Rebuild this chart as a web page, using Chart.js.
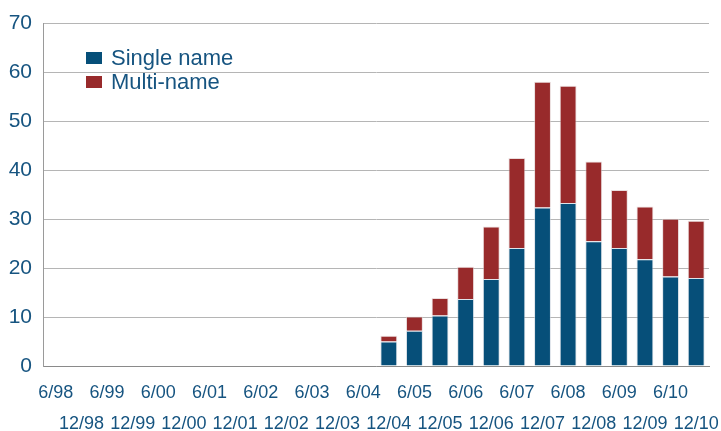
<!DOCTYPE html>
<html>
<head>
<meta charset="utf-8">
<script src="https://cdn.jsdelivr.net/npm/chart.js@4/dist/chart.umd.min.js"></script>
<style>
  html, body { margin: 0; padding: 0; background: #fff; }
  #wrap { width: 721px; height: 431px; }
</style>
</head>
<body>
<div id="wrap"><canvas id="myChart" width="721" height="431"></canvas></div>
<script>
const CATEGORIES = ['6/98', '12/98', '6/99', '12/99', '6/00', '12/00', '6/01', '12/01', '6/02', '12/02',
    '6/03', '12/03', '6/04', '12/04', '6/05', '12/05', '6/06', '12/06', '6/07', '12/07',
    '6/08', '12/08', '6/09', '12/09', '6/10', '12/10'];
const SINGLE_NAME = [0, 0, 0, 0, 0, 0, 0, 0, 0, 0, 0, 0, 0,
    5.0, 7.2, 10.3, 13.7, 17.8, 24.1, 32.4, 33.3, 25.5, 24.1, 21.8, 18.3, 18.0];
const MULTI_NAME = [0, 0, 0, 0, 0, 0, 0, 0, 0, 0, 0, 0, 0,
    1.2, 2.9, 3.6, 6.6, 10.7, 18.4, 25.7, 24.0, 16.3, 11.9, 10.8, 11.8, 11.7];
const Y_TICKS = [0, 10, 20, 30, 40, 50, 60, 70];
const SERIES_LABELS = ['Single name', 'Multi-name'];

const COLOR_BLUE = '#064f79';
const COLOR_RED = '#982a2b';
const COLOR_TEXT = '#165480';
const FONT = '"Liberation Sans", Arial, sans-serif';

// legend drawn inside the plot, top left
const insideLegend = {
    id: 'insideLegend',
    afterDraw(chart) {
        const ctx = chart.ctx;
        const colors = [COLOR_BLUE, COLOR_RED];
        ctx.save();
        ctx.font = '22px ' + FONT;
        ctx.textBaseline = 'middle';
        SERIES_LABELS.forEach((label, i) => {
            const y = 58 + i * 24;
            ctx.fillStyle = colors[i];
            ctx.fillRect(86, y - 6, 16, 12);
            ctx.fillStyle = COLOR_TEXT;
            ctx.fillText(label, 111, y + 1);
        });
        ctx.restore();
    }
};

const chartData = {
    labels: CATEGORIES,
    datasets: [
        {
            label: SERIES_LABELS[0],
            data: SINGLE_NAME,
            backgroundColor: COLOR_BLUE,
            borderColor: 'rgba(200,210,220,0.6)',
            borderWidth: 1,
            barPercentage: 0.66,
            categoryPercentage: 1,
        },
        {
            label: SERIES_LABELS[1],
            data: MULTI_NAME,
            backgroundColor: COLOR_RED,
            borderColor: 'rgba(220,200,200,0.6)',
            borderWidth: 1,
            barPercentage: 0.66,
            categoryPercentage: 1,
        },
    ],
};

const config = {
    type: 'bar',
    data: chartData,
    options: {
        responsive: false,
        animation: false,
        layout: { padding: { top: 19, right: 12, left: 0, bottom: 0 } },
        plugins: {
            legend: { display: false },
            tooltip: { enabled: false },
        },
        scales: {
            x: {
                stacked: true,
                grid: { display: false, drawTicks: false },
                border: { color: '#8a8a8a', width: 1 },
                ticks: {
                    autoSkip: false,
                    maxRotation: 0,
                    minRotation: 0,
                    padding: 11,
                    color: COLOR_TEXT,
                    font: { family: FONT, size: 18, lineHeight: 1.75 },
                    callback: (value, index) => index % 2 === 0 ? [CATEGORIES[index], ''] : ['', CATEGORIES[index]],
                },
                afterFit: (scale) => {
                    scale.height = 65;
                    scale.paddingLeft = 0;
                    scale.paddingRight = 0;
                },
            },
            y: {
                stacked: true,
                min: 0,
                max: 70,
                afterBuildTicks: (scale) => { scale.ticks = Y_TICKS.map((v) => ({ value: v })); },
                grid: { color: '#b5b5b5', drawTicks: false, lineWidth: 1 },
                border: { color: '#9a9a9a', width: 1 },
                ticks: {
                    padding: 11,
                    color: COLOR_TEXT,
                    font: { family: FONT, size: 21 },
                },
                afterFit: (scale) => { scale.width = 43; },
            },
        },
    },
    plugins: [insideLegend],
};

const myChart = new Chart(document.querySelector('#myChart'), config);
</script>
</body>
</html>
